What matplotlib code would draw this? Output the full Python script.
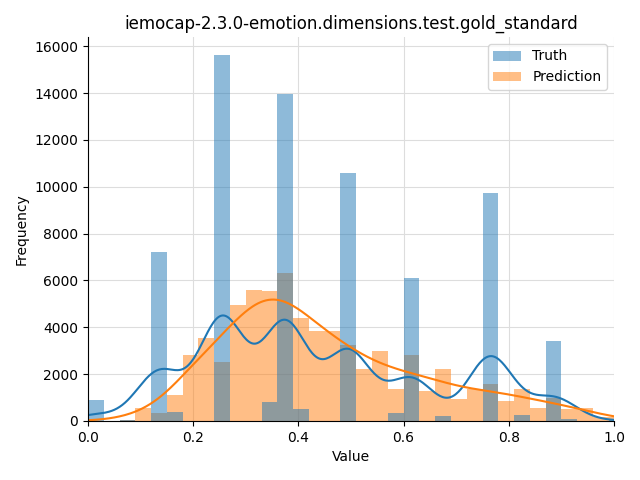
import numpy as np
import matplotlib
matplotlib.use("Agg")
import matplotlib.pyplot as plt

# Histogram bins (bin width 0.03, starting at 0)
bin_width = 0.03
n_bins = 34
edges = np.round(np.arange(n_bins + 1) * bin_width, 4)

truth_counts = [900, 0, 45, 0, 7230, 390, 0, 0, 15615, 0, 0, 810, 13950, 530, 0, 0,
                10570, 0, 0, 340, 6120, 0, 210, 0, 0, 9750, 0, 250, 0, 3420, 85, 0, 0, 60]
pred_counts = [20, 15, 50, 560, 355, 1110, 2820, 3550, 2520, 4960, 5600, 5560, 6300, 4400,
               3850, 3850, 3250, 2220, 2990, 1370, 2820, 1280, 2220, 940, 1370, 1580, 850,
               1370, 560, 1000, 530, 550, 190, 150]

title = "iemocap-2.3.0-emotion.dimensions.test.gold_standard"
bw_truth = 0.043
bw_pred = 0.052

centers = (edges[:-1] + edges[1:]) / 2

fig = plt.figure(figsize=(6.4, 4.8), dpi=100)
ax = fig.add_axes([88 / 640, 1 - 421 / 480, (614 - 88) / 640, (421 - 37) / 480])
ax.set_axisbelow(True)
ax.grid(True, color="#dddddd", linewidth=0.8)

_, _, p_bars = ax.hist(centers, bins=edges, weights=pred_counts, color="#ff7f0e",
                       alpha=0.5, label="Prediction")
_, _, t_bars = ax.hist(centers, bins=edges, weights=truth_counts, color="#1f77b4",
                       alpha=0.5, label="Truth")


def kde_counts(counts, h, xs):
    counts = np.asarray(counts, dtype=float)
    d = (xs[:, None] - centers[None, :]) / h
    dens = np.exp(-0.5 * d ** 2) / (np.sqrt(2 * np.pi) * h)
    return (dens * counts[None, :]).sum(axis=1) * bin_width


xs = np.linspace(0, 1, 400)
ax.plot(xs, kde_counts(truth_counts, bw_truth, xs), color="#1f77b4", lw=1.5)
ax.plot(xs, kde_counts(pred_counts, bw_pred, xs), color="#ff7f0e", lw=1.5)

ax.set_xlim(0, 1)
ax.set_ylim(0, max(truth_counts) * 1.05)
ax.set_yticks(np.arange(0, 16001, 2000))
ax.spines["top"].set_visible(False)
ax.spines["right"].set_visible(False)
ax.set_xlabel("Value")
ax.set_ylabel("Frequency")
ax.set_title(title)
ax.legend([t_bars, p_bars], ["Truth", "Prediction"], loc="upper right")

fig.savefig("out.png", dpi=100)
